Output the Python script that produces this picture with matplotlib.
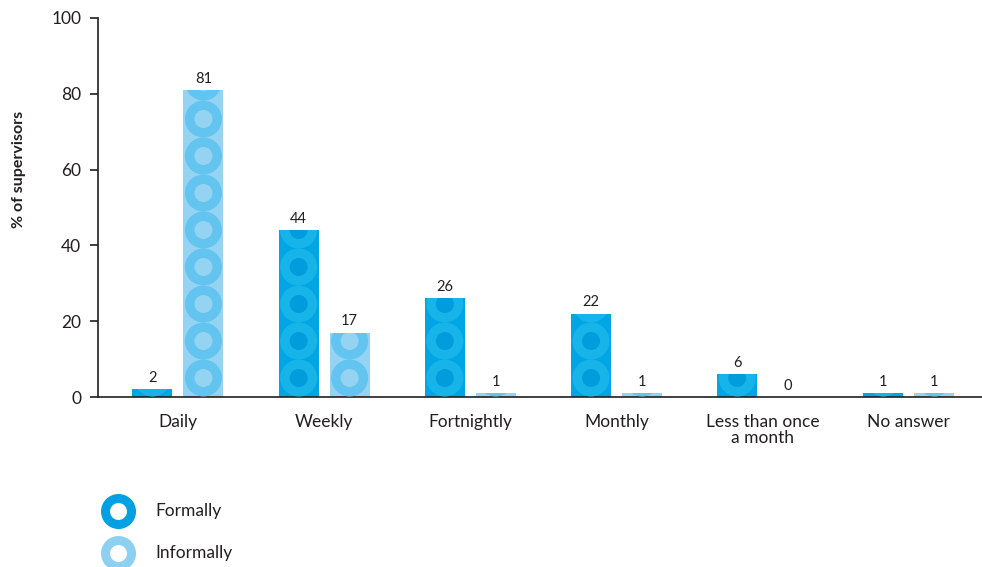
import numpy as np
import matplotlib
matplotlib.use('Agg')
import matplotlib.pyplot as plt
from matplotlib.patches import Ellipse
from matplotlib.lines import Line2D

categories = ['Daily', 'Weekly', 'Fortnightly', 'Monthly', 'Less than once\na month', 'No answer']
formally = [2, 44, 26, 22, 6, 1]
informally = [81, 17, 1, 1, 0, 1]
yticks = [0, 20, 40, 60, 80, 100]

plt.rcParams['font.family'] = ['Lato', 'DejaVu Sans']
dark = '#231f20'
styles = {
    'Formally': dict(base='#00a6e4', ring='#17b4ea', dot='#009cdc', legend='#00a0e3'),
    'Informally': dict(base='#95d3f3', ring='#62c4ef', dot='#95d3f3', legend='#8dd0f2'),
}

fig = plt.figure(figsize=(9.82, 5.67), dpi=100)
ax = fig.add_axes([98/982, 170/567, 884/982, 379/567])

x = np.arange(len(categories))
xlim = (-0.547, 5.5)
ax.set_xlim(*xlim)
ax.set_ylim(0, 100)

# pixel -> data conversions
px_x = 884 / (xlim[1] - xlim[0])
px_y = 379 / 100.0
width = 40 / px_x
off = 25.5 / px_x


def patterned_bars(xs, vals, st):
    bars = ax.bar(xs, vals, width, color=st['base'], linewidth=0, zorder=2)
    for b, v in zip(bars, vals):
        if v <= 0:
            continue
        cx = b.get_x() + b.get_width() / 2
        n = int(np.ceil(v * px_y / 37.0)) + 1
        for k in range(n):
            cy = (19 + 37 * k) / px_y
            outer = Ellipse((cx, cy), 37 / px_x, 37 / px_y, color=st['ring'], lw=0, zorder=3)
            inner = Ellipse((cx, cy), 18 / px_x, 18 / px_y, color=st['dot'], lw=0, zorder=4)
            for e in (outer, inner):
                ax.add_patch(e)
                e.set_clip_path(b)
    for xi, v in zip(xs, vals):
        ax.annotate(str(v), (xi, v), xytext=(0, 3), textcoords='offset points',
                    ha='center', va='bottom', fontsize=10.5, color=dark)


patterned_bars(x - off, formally, styles['Formally'])
patterned_bars(x + off, informally, styles['Informally'])

ax.spines['top'].set_visible(False)
ax.spines['right'].set_visible(False)
for s in ('left', 'bottom'):
    ax.spines[s].set_color(dark)
    ax.spines[s].set_linewidth(1.2)

ax.set_yticks(yticks)
ax.set_xticks(x)
ax.set_xticklabels(categories, linespacing=1.05)
ax.tick_params(axis='y', direction='out', length=6, width=1.2, color=dark,
               labelsize=12.5, labelcolor=dark, pad=6)
ax.tick_params(axis='x', length=0, labelsize=12.5, labelcolor=dark, pad=12)
ax.set_ylabel('% of supervisors', fontsize=11.5, fontweight='bold', color=dark)
ax.yaxis.set_label_coords(-0.082, 0.6)

# legend
for i, (name, st) in enumerate(styles.items()):
    yy = 1 - (511 + 42 * i) / 567
    fig.add_artist(Line2D([118/982], [yy], marker='o', markersize=18.7, markeredgewidth=6.5,
                          markerfacecolor='white', markeredgecolor=st['legend'],
                          transform=fig.transFigure))
    fig.text(155/982, yy, name, fontsize=12.5, color=dark, va='center', ha='left')

fig.savefig('out.png', dpi=100)
